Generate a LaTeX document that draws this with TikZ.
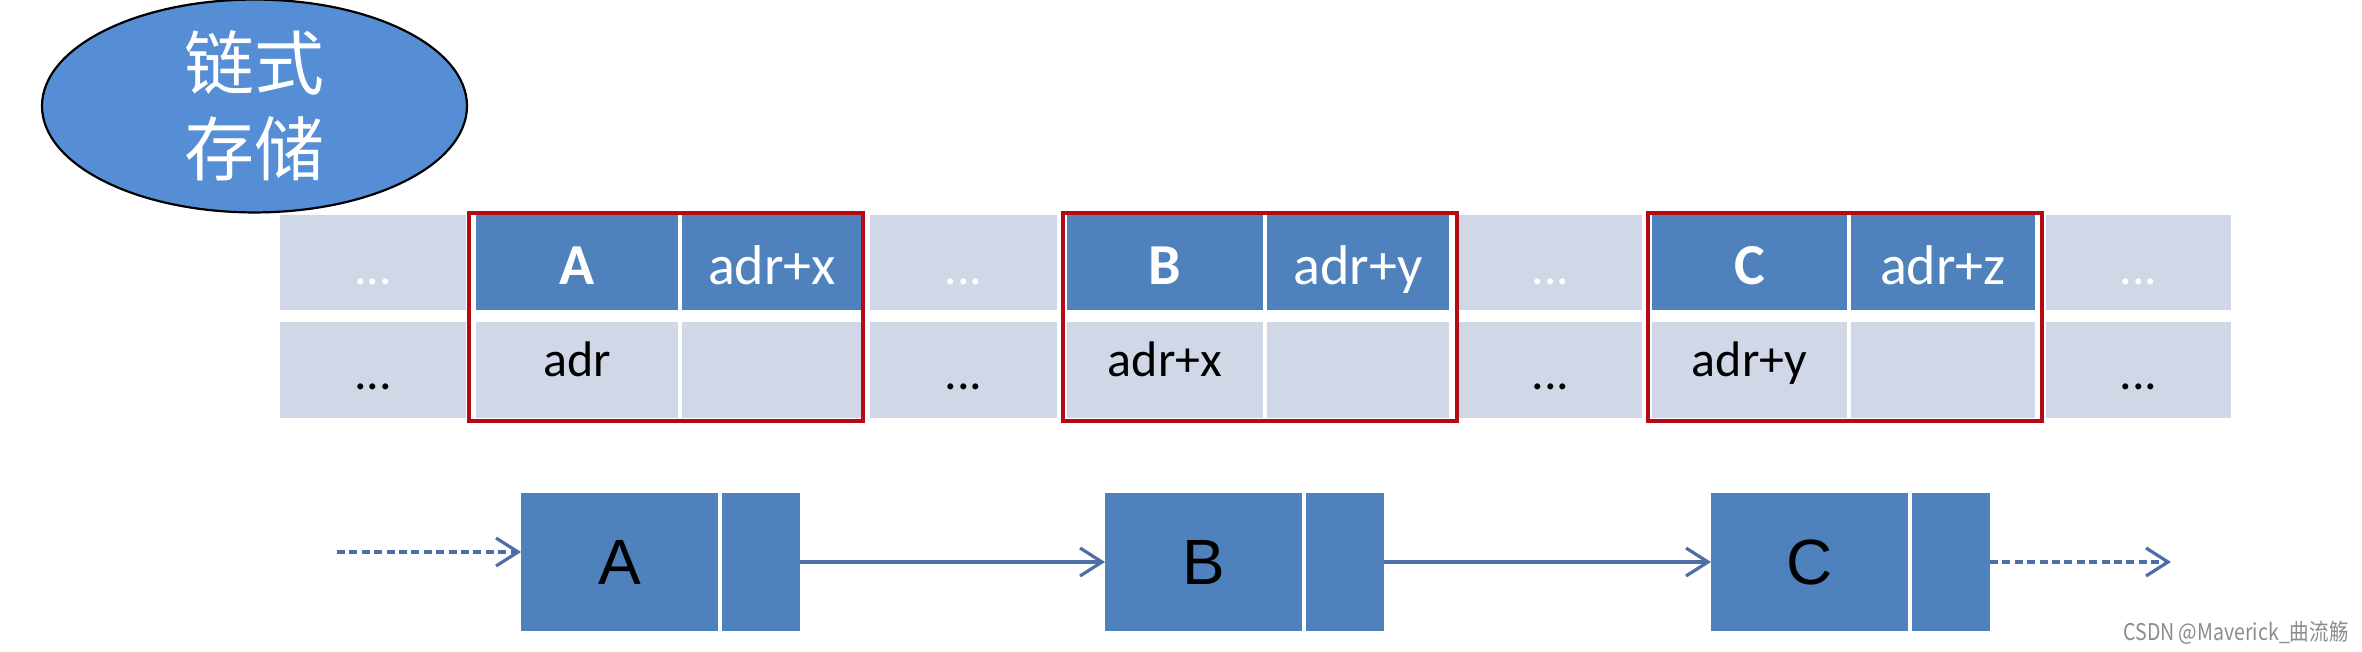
\documentclass[tikz,border=0pt]{standalone}
\usepackage{fontspec}
\usepackage{graphicx}
\setmainfont{Carlito}
\newfontfamily\arialf{Liberation Sans}
\newfontfamily\cjkf{Noto Sans CJK SC}
\usetikzlibrary{shapes.geometric,arrows.meta}
\definecolor{headblue}{RGB}{79,129,189}
\definecolor{cellgray}{RGB}{208,216,232}
\definecolor{boxred}{RGB}{180,10,20}
\definecolor{arrowblue}{RGB}{78,110,168}
\definecolor{ellblue}{RGB}{85,142,213}
\definecolor{wmgray}{RGB}{140,140,140}
\begin{document}
\begin{tikzpicture}[x=0.5pt,y=-0.5pt,
  cell/.style={rectangle,inner sep=0pt,outer sep=0pt},
  hcell/.style={cell,fill=headblue,minimum height=47.5pt,text=white,font=\fontsize{28}{32}\selectfont,text height=22.5pt,text depth=0pt},
  hbold/.style={hcell,font=\fontsize{29}{32}\selectfont\bfseries},
  hdots/.style={cell,fill=cellgray,minimum height=47.5pt,text=white,font=\fontsize{25}{30}\selectfont,text height=22.5pt,text depth=0pt},
  lcell/.style={cell,fill=cellgray,minimum height=48pt,text=black,font=\fontsize{25}{30}\selectfont,text height=7pt,text depth=0pt},
  ldots/.style={lcell,text height=19pt},
  memframe/.style={draw=boxred,line width=1.8pt,minimum width=197pt,minimum height=104pt,inner sep=0pt},
  nodebox/.style={cell,fill=headblue,minimum height=69pt,font=\arialf\fontsize{32}{38}\selectfont},
  link/.style={draw=arrowblue,line width=1.6pt,-{Straight Barb[length=11pt,width=14pt]}},
  dlink/.style={link,dash pattern=on 4pt off 2.2pt},
]
\useasboundingbox (0,0) rectangle (2362,652);
\fill[white] (0,0) rectangle (2362,652);

% title ellipse
\node[ellipse,draw=black,line width=1.1pt,fill=ellblue,minimum width=212.5pt,minimum height=101pt,inner sep=0pt,align=center,text=white,font=\cjkf\fontsize{35}{43}\selectfont] (title) at (254.5,106) {链式\\存储};

% memory row 1
\node[hdots,minimum width=93pt] (t0) at (373,262.5) {...};
\node[hbold,minimum width=101pt] (tA) at (577,262.5) {A};
\node[hcell,minimum width=90pt] (tAp) at (772,262.5) {adr+x};
\node[hdots,minimum width=93.5pt] (t1) at (963.5,262.5) {...};
\node[hbold,minimum width=98pt] (tB) at (1165,262.5) {B};
\node[hcell,minimum width=91pt] (tBp) at (1358,262.5) {adr+y};
\node[hdots,minimum width=91.5pt] (t2) at (1550.5,262.5) {...};
\node[hbold,minimum width=97.5pt] (tC) at (1749.5,262.5) {C};
\node[hcell,minimum width=92pt] (tCp) at (1943,262.5) {adr+z};
\node[hdots,minimum width=92.5pt] (t3) at (2138.5,262.5) {...};

% memory row 2
\node[ldots,minimum width=93pt] (b0) at (373,370) {...};
\node[lcell,minimum width=101pt] (bA) at (577,370) {adr};
\node[lcell,minimum width=90pt] (bAp) at (772,370) {};
\node[ldots,minimum width=93.5pt] (b1) at (963.5,370) {...};
\node[lcell,minimum width=98pt] (bB) at (1165,370) {adr+x};
\node[lcell,minimum width=91pt] (bBp) at (1358,370) {};
\node[ldots,minimum width=91.5pt] (b2) at (1550.5,370) {...};
\node[lcell,minimum width=97.5pt] (bC) at (1749.5,370) {adr+y};
\node[lcell,minimum width=92pt] (bCp) at (1943,370) {};
\node[ldots,minimum width=92.5pt] (b3) at (2138.5,370) {...};

% red frames
\node[memframe] (fA) at (666,317) {};
\node[memframe] (fB) at (1260,317) {};
\node[memframe] (fC) at (1845,317) {};

% linked list nodes
\node[nodebox,minimum width=98.5pt] (nA) at (619.5,562) {A};
\node[nodebox,minimum width=39pt] (nAp) at (761,562) {};
\node[nodebox,minimum width=98.5pt] (nB) at (1203.5,562) {B};
\node[nodebox,minimum width=39pt] (nBp) at (1345,562) {};
\node[nodebox,minimum width=98.5pt] (nC) at (1809.5,562) {C};
\node[nodebox,minimum width=39pt] (nCp) at (1951,562) {};

\coordinate (inStart) at (337,552);
\coordinate (outEnd) at (2171,562);
\draw[dlink] (inStart) -- (inStart -| nA.west);
\draw[link] (nAp.east) -- (nB.west);
\draw[link] (nBp.east) -- (nC.west);
\draw[dlink] (nCp.east) -- (outEnd);

% watermark
\node[text=wmgray,font=\cjkf\fontsize{11.5}{13}\selectfont,inner sep=0pt] (wm) at (2236,633) {\scalebox{0.85}[1]{CSDN @Maverick\_曲流觞}};
\end{tikzpicture}
\end{document}
